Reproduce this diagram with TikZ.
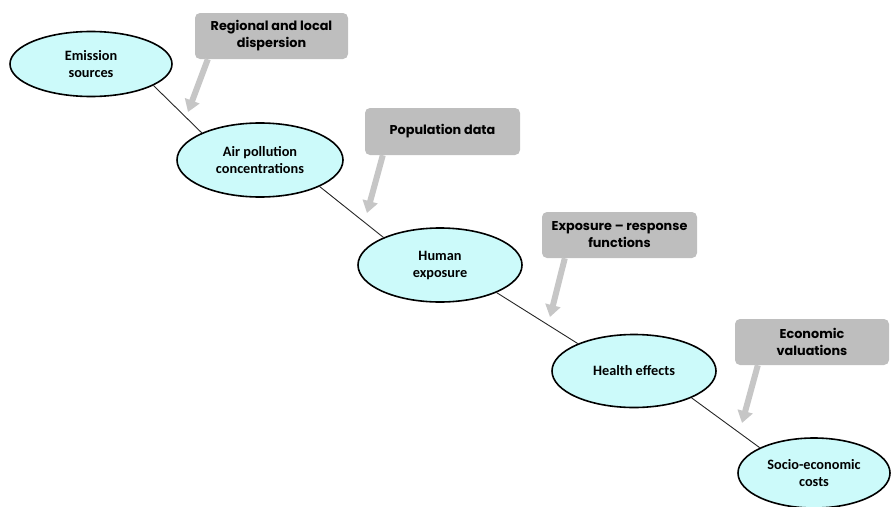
\documentclass[tikz,border=0pt]{standalone}
\usepackage{fontspec}
\setmainfont{Carlito}
\newfontfamily\boxfont{Poppins}
\usetikzlibrary{arrows.meta,shapes.geometric}
\definecolor{ellfill}{HTML}{CCFAFA}
\definecolor{boxfill}{HTML}{BEBEBE}
\definecolor{arrfill}{HTML}{C6C6C6}
\tikzset{
  ell/.style={ellipse, draw=black, line width=1.6pt, fill=ellfill, inner sep=0pt,
    align=center, font=\fontsize{14.3}{17}\selectfont\bfseries},
  gbox/.style={rectangle, rounded corners=5pt, fill=boxfill, inner sep=0pt,
    align=center, font=\boxfont\fontsize{12.8}{17}\selectfont\bfseries},
  gar/.style={draw=arrfill, line width=6pt, -{Triangle[width=15pt,length=12pt]}},
  conn/.style={draw=black!85, line width=0.9pt}
}
\begin{document}
\begin{tikzpicture}[x=1pt,y=-1pt]
\useasboundingbox (0,0) rectangle (893,506);
% ellipses
\node[ell, minimum width=162pt, minimum height=65pt] (e1) at (91,64) {Emission\\sources};
\node[ell, minimum width=166pt, minimum height=74pt] (e2) at (260,160) {Air pollution\\concentrations};
\node[ell, minimum width=164pt, minimum height=74pt] (e3) at (440,265) {Human\\exposure};
\node[ell, minimum width=164pt, minimum height=73pt] (e4) at (634,371) {Health effects};
\node[ell, minimum width=152pt, minimum height=70pt] (e5) at (814,473) {Socio-economic\\costs};
% connectors
\draw[conn] (e1.-19) -- (e2.155);
\draw[conn] (e2.-24) -- (e3.154);
\draw[conn] (e3.-26) -- (e4.154);
\draw[conn] (e4.-25) -- (e5.155);
% boxes
\node[gbox, minimum width=153pt, minimum height=46pt] (b1) at (271.5,36) {Regional and local\\dispersion};
\node[gbox, minimum width=155pt, minimum height=47pt] (b2) at (442.5,131.5) {Population data};
\node[gbox, minimum width=155pt, minimum height=46pt] (b3) at (619.5,235) {Exposure – response\\functions};
\node[gbox, minimum width=154pt, minimum height=46pt] (b4) at (812,342) {Economic\\valuations};
% arrow tips
\coordinate (t1) at (188,112);
\coordinate (t2) at (367,213);
\coordinate (t3) at (550,317);
\coordinate (t4) at (742,423);
\draw[gar] ([xshift=13pt]b1.south west) -- (t1);
\draw[gar] ([xshift=18pt]b2.south west) -- (t2);
\draw[gar] ([xshift=23pt]b3.south west) -- (t3);
\draw[gar] ([xshift=23pt]b4.south west) -- (t4);
\end{tikzpicture}
\end{document}
